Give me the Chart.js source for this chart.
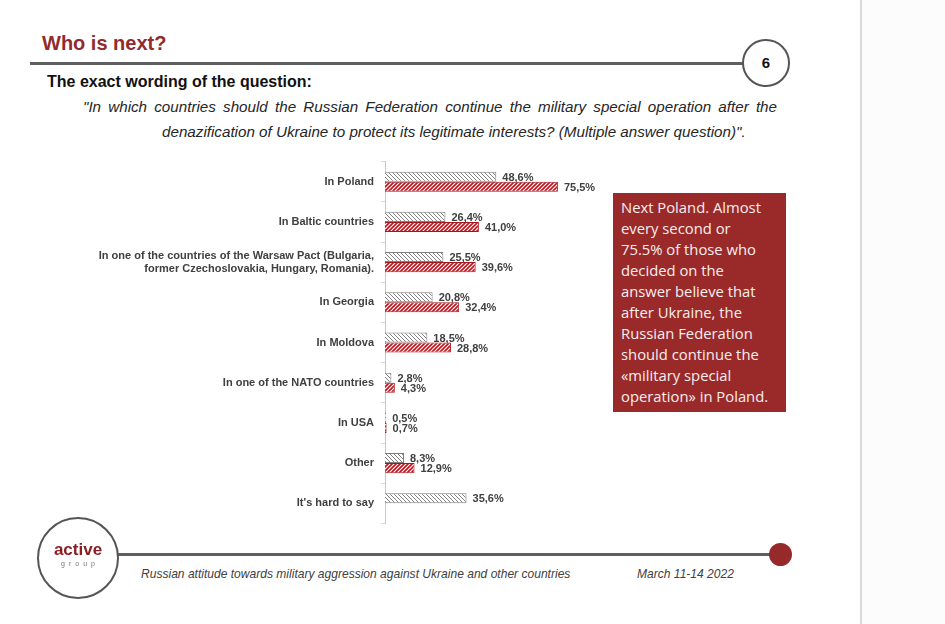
<!DOCTYPE html>
<html>
<head>
<meta charset="utf-8">
<script src="https://cdn.jsdelivr.net/npm/chart.js@4.4.1/dist/chart.umd.min.js"></script>
<style>
  html, body { margin: 0; padding: 0; }
  body {
    width: 945px; height: 624px; position: relative; overflow: hidden;
    background: #fff; font-family: "Liberation Sans", Arial, sans-serif;
  }
  .abs { position: absolute; white-space: nowrap; }
  #side { left: 860px; top: 0; width: 85px; height: 624px; background: #fcfcfc; border-left: 2px solid #dadada; }
  #title { left: 42px; top: 32px; font-size: 20px; font-weight: bold; color: #922b2b; }
  #titleLine { left: 30px; top: 62px; width: 714px; height: 3px; background: #5f5f5f; }
  #pageNo {
    left: 742px; top: 39px; width: 44px; height: 44px; border: 2px solid #555; border-radius: 50%;
    background: #fff; font-size: 15px; font-weight: bold; color: #111; text-align: center; line-height: 44px;
  }
  #wording { left: 47px; top: 73px; font-size: 16px; font-weight: bold; color: #111; }
  .q { font-size: 15.2px; font-style: italic; color: #262626; }
  #q1 { left: 83px; top: 98px; width: 694px; text-align: justify; text-align-last: justify; white-space: normal; }
  #q2 { left: 162px; top: 123px; }
  #chartWrap { left: 0; top: 148px; }
  #note {
    left: 613px; top: 193px; width: 165px; height: 214px; padding: 4px 0 1px 8px;
    background: #9a2a2a; color: #f7eeee; font-family: "Open Sans", "Noto Sans", sans-serif;
    font-size: 14.8px; line-height: 21px;
  }
  #logo {
    left: 37px; top: 517px; width: 78px; height: 78px; border: 2px solid #555; border-radius: 50%;
    background: #fff; text-align: center;
  }
  #logo .a { position: absolute; left: 0; width: 78px; top: 22px; font-size: 17px; font-weight: bold; color: #8b1f24; line-height: 18px; }
  #logo .g { position: absolute; left: 2px; width: 78px; top: 41px; font-size: 7px; color: #777; letter-spacing: 4px; line-height: 8px; }
  #footLine { left: 117px; top: 553px; width: 655px; height: 3px; background: #5f5f5f; }
  #footDot { left: 769px; top: 543px; width: 23px; height: 23px; border-radius: 50%; background: #962a2a; }
  .foot {
    font-size: 13px; font-style: italic; color: #404040; top: 566px;
    transform: scaleX(0.927); transform-origin: left center;
  }
  #foot1 { left: 141px; }
  #foot2 { left: 637px; }
</style>
</head>
<body>
<div class="abs" id="side"></div>
<div class="abs" id="title">Who is next?</div>
<div class="abs" id="titleLine"></div>
<div class="abs" id="pageNo">6</div>
<div class="abs" id="wording">The exact wording of the question:</div>
<div class="abs q" id="q1">"In which countries should the Russian Federation continue the military special operation after the</div>
<div class="abs q" id="q2">denazification of Ukraine to protect its legitimate interests? (Multiple answer question)".</div>
<div class="abs" id="chartWrap"><canvas id="chart" width="620" height="389"></canvas></div>
<div class="abs" id="note">Next Poland. Almost<br>every second or<br>75.5% of those who<br>decided on the<br>answer believe that<br>after Ukraine, the<br>Russian Federation<br>should continue the<br>«military special<br>operation» in Poland.</div>
<div class="abs" id="footLine"></div>
<div class="abs" id="footDot"></div>
<div class="abs" id="logo"><div class="a">active</div><div class="g">group</div></div>
<div class="abs foot" id="foot1">Russian attitude towards military aggression against Ukraine and other countries</div>
<div class="abs foot" id="foot2">March 11-14 2022</div>

<script>
// answers
var categories = [
	'In Poland',
	'In Baltic countries',
	['In one of the countries of the Warsaw Pact (Bulgaria,', 'former Czechoslovakia, Hungary, Romania).'],
	'In Georgia',
	'In Moldova',
	'In one of the NATO countries',
	'In USA',
	'Other',
	"It's hard to say"
];
// % of all respondents
var allRespondents = [48.6, 26.4, 25.5, 20.8, 18.5, 2.8, 0.5, 8.3, 35.6];
// % of those who decided on the answer
var decided = [75.5, 41.0, 39.6, 32.4, 28.8, 4.3, 0.7, 12.9, null];

var canvas = document.getElementById('chart');
var ctx = canvas.getContext('2d');

function hatch( color, dir, lw ) {
	var s = 4;
	var c = document.createElement('canvas');
	c.width = s; c.height = s;
	var g = c.getContext('2d');
	g.fillStyle = '#ffffff';
	g.fillRect(0, 0, s, s);
	g.strokeStyle = color;
	g.lineWidth = lw;
	g.beginPath();
	if( dir === '/' ) {
		g.moveTo(0, s); g.lineTo(s, 0);
		g.moveTo(-1, 1); g.lineTo(1, -1);
		g.moveTo(s - 1, s + 1); g.lineTo(s + 1, s - 1);
	} else {
		g.moveTo(0, 0); g.lineTo(s, s);
		g.moveTo(-1, s - 1); g.lineTo(1, s + 1);
		g.moveTo(s - 1, -1); g.lineTo(s + 1, 1);
	}
	g.stroke();
	return ctx.createPattern(c, 'repeat');
}

var valueLabels = {
	id: 'valueLabels',
	afterDatasetsDraw: function( chart ) {
		var c = chart.ctx;
		c.save();
		c.font = 'bold 11px "Liberation Sans", Arial, sans-serif';
		c.fillStyle = '#404040';
		c.textBaseline = 'middle';
		c.textAlign = 'left';
		chart.data.datasets.forEach( function( ds, i ) {
			chart.getDatasetMeta(i).data.forEach( function( bar, j ) {
				var v = ds.data[j];
				if( v == null ) return;
				c.fillText( v.toFixed(1).replace('.', ',') + '%', bar.x + 6, bar.y + 1 );
			});
		});
		c.restore();
	}
};

var chart = new Chart(ctx, {
	type: 'bar',
	data: {
		labels: categories,
		datasets: [{
			label: 'All respondents',
			data: allRespondents,
			backgroundColor: hatch('#7f7f7f', '\\', 1),
			borderColor: '#7f7f7f',
			borderWidth: 1,
			categoryPercentage: 0.5,
			barPercentage: 1.0
		}, {
			label: 'Decided on the answer',
			data: decided,
			backgroundColor: hatch('#b8141c', '/', 1.6),
			borderColor: '#a8161c',
			borderWidth: 1,
			categoryPercentage: 0.5,
			barPercentage: 1.0
		}]
	},
	options: {
		indexAxis: 'y',
		responsive: false,
		animation: false,
		layout: { padding: { left: 0, right: 6, top: 0, bottom: 0 } },
		plugins: {
			legend: { display: false },
			tooltip: { enabled: false }
		},
		scales: {
			x: { display: false, min: 0, max: 100 },
			y: {
				afterFit: function( scale ) { scale.width = 385; },
				grid: { offset: true, drawOnChartArea: false, tickLength: 4, color: '#d9d9d9' },
				border: { color: '#c8c8c8' },
				ticks: {
					padding: 7,
					color: '#404040',
					font: { family: '"Liberation Sans", Arial, sans-serif', size: 11, weight: 'bold' }
				}
			}
		}
	},
	plugins: [valueLabels]
});
</script>
</body>
</html>
